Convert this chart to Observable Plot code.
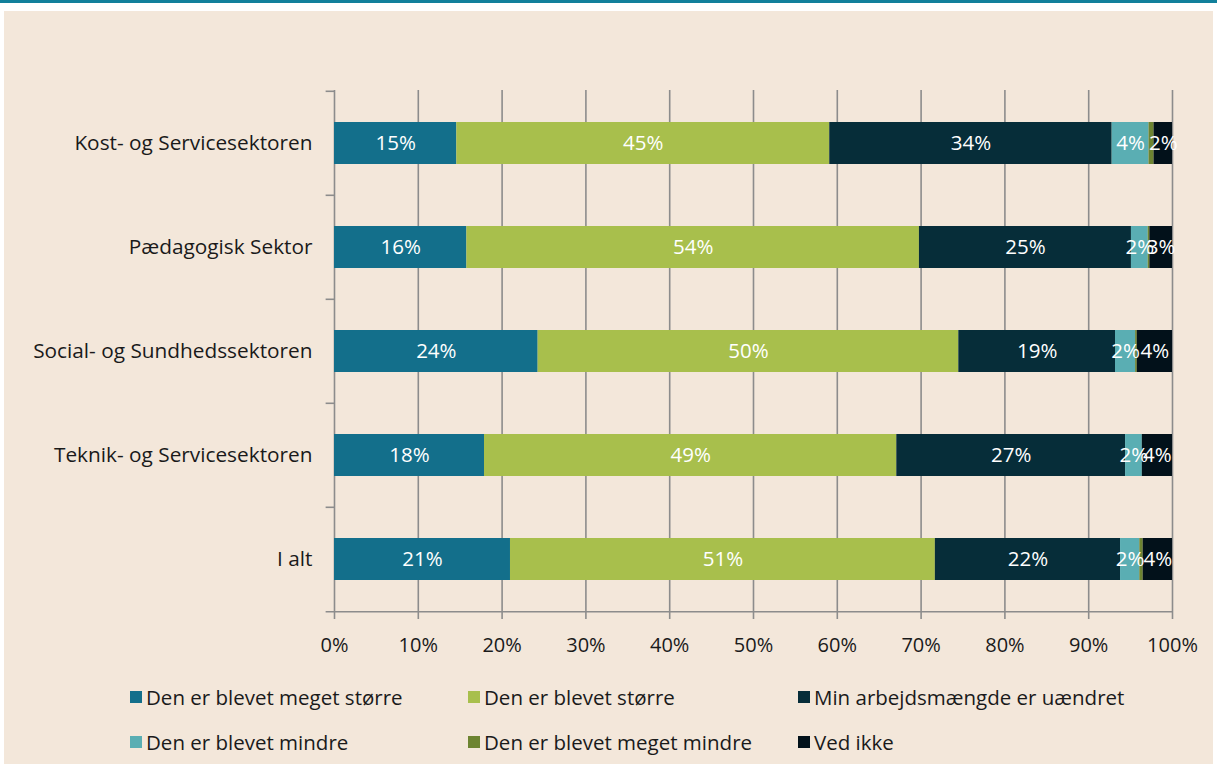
<!DOCTYPE html>
<html>
<head>
<meta charset="utf-8">
<script src="https://cdn.jsdelivr.net/npm/d3@7"></script>
<script src="https://cdn.jsdelivr.net/npm/@observablehq/plot@0.6"></script>
<style>
  html, body { margin: 0; padding: 0; background: #ffffff; }
  #page { position: relative; width: 1217px; height: 764px; overflow: hidden; background: #ffffff; font-family: "Open Sans", sans-serif; }
  #topbar { position: absolute; left: 0; top: 0; width: 1217px; height: 3px; background: #11809b; }
  #panel { position: absolute; left: 4px; top: 11px; width: 1209px; height: 753px; background: #f3e7da; }
  #chart { position: absolute; left: 0; top: 11px; }
  .legend { position: absolute; font-size: 20.5px; color: #1a1a1a; white-space: nowrap; display: flex; align-items: center; }
  .legend .sw { width: 12px; height: 12px; margin-right: 4px; display: inline-block; }
</style>
</head>
<body>
<div id="page">
  <div id="topbar"></div>
  <div id="panel"></div>
  <div id="chart"></div>
  <div id="legend"></div>
</div>
<script>
const sectors = ["Kost- og Servicesektoren", "Pædagogisk Sektor", "Social- og Sundhedssektoren", "Teknik- og Servicesektoren", "I alt"];
const categories = ["Den er blevet meget større", "Den er blevet større", "Min arbejdsmængde er uændret", "Den er blevet mindre", "Den er blevet meget mindre", "Ved ikke"];
const colors = ["#136f8b", "#a8bf4c", "#062d39", "#5aaeb3", "#6d8431", "#02111a"];
// percent values per category, in sector order
const megetStorre = [14.6, 15.8, 24.3, 17.9, 21.0];
const storre      = [44.5, 54.0, 50.2, 49.2, 50.7];
const uaendret    = [33.7, 25.3, 18.7, 27.3, 22.1];
const mindre      = [4.4, 2.0, 2.4, 2.0, 2.3];
const megetMindre = [0.6, 0.2, 0.2, 0.0, 0.4];
const vedIkke     = [2.2, 2.7, 4.2, 3.6, 3.5];
const xTicks = [0, 10, 20, 30, 40, 50, 60, 70, 80, 90, 100];

const series = [megetStorre, storre, uaendret, mindre, megetMindre, vedIkke];
const data = [];
sectors.forEach((s, i) => series.forEach((vals, j) => data.push({sector: s, cat: categories[j], value: vals[i]})));

const W = 1217, H = 640, mTop = 79, mBottom = 39, mLeft = 334, mRight = 45;
const step = (H - mTop - mBottom) / sectors.length;
const grid = "#8c8c8c";

const plot = Plot.plot({
  width: W, height: H,
  marginTop: mTop, marginBottom: mBottom, marginLeft: mLeft, marginRight: mRight,
  style: {background: "transparent", fontFamily: "Open Sans, sans-serif", fontSize: "20px", color: "#1a1a1a", overflow: "visible"},
  x: {domain: [0, 100]},
  y: {domain: sectors, paddingInner: 0.6, paddingOuter: 0.3},
  color: {domain: categories, range: colors},
  marks: [
    Plot.gridX(xTicks, {stroke: grid, strokeOpacity: 1, strokeWidth: 1.6}),
    Plot.barX(data, Plot.stackX({x: "value", y: "sector", fill: "cat"})),
    Plot.textX(data, Plot.stackX({x: "value", y: "sector", z: "cat",
      text: d => d.value >= 1.5 ? Math.round(d.value) + "%" : "", fill: "white", fontSize: 20.5})),
    Plot.ruleY(sectors, {y: d => d, dy: -step / 2, x1: -1, x2: 0, stroke: grid, strokeWidth: 1.6}),
    Plot.ruleY([sectors[sectors.length - 1]], {y: d => d, dy: step / 2, x1: -1, x2: 100, stroke: grid, strokeWidth: 1.6}),
    Plot.axisY({tickSize: 0, tickPadding: 22, fontSize: 20.8, label: null}),
    Plot.axisX(xTicks, {tickSize: 7, tickPadding: 18, stroke: grid, strokeWidth: 1.6, tickFormat: d => d + "%", fontSize: 20, label: null})
  ]
});
document.getElementById("chart").appendChild(plot);

// legend
const legendPos = [[130, 697], [468, 697], [798, 697], [130, 742], [468, 742], [798, 742]];
const lg = document.getElementById("legend");
categories.forEach((c, i) => {
  const el = document.createElement("div");
  el.className = "legend";
  el.style.left = legendPos[i][0] + "px";
  el.style.top = (legendPos[i][1] - 14) + "px";
  el.style.height = "28px";
  el.innerHTML = `<span class="sw" style="background:${colors[i]}"></span><span>${c}</span>`;
  lg.appendChild(el);
});
</script>
</body>
</html>
